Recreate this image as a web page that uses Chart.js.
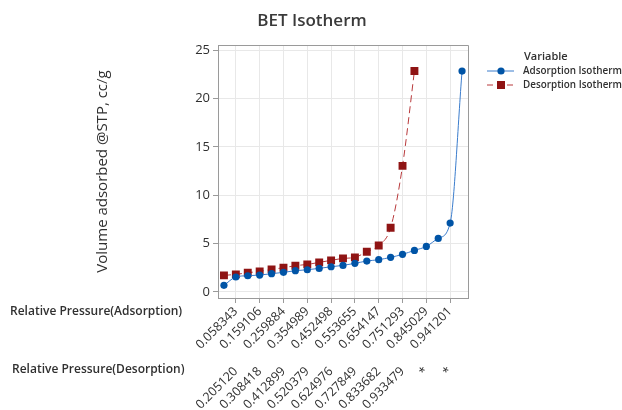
<!DOCTYPE html>
<html>
<head>
<meta charset="utf-8">
<script src="https://cdn.jsdelivr.net/npm/chart.js@4.4.1/dist/chart.umd.min.js"></script>
<style>
html,body{margin:0;padding:0;background:#fff;}
#wrap{width:622px;height:410px;position:relative;}
</style>
</head>
<body>
<div id="wrap"><canvas id="c" width="622" height="410"></canvas></div>
<script>
// ---- data ----
const pointIndex = ['1','2','3','4','5','6','7','8','9','10','11','12','13','14','15','16','17','18','19','20','21'];
const adsorption = [0.69,1.55,1.68,1.75,1.89,2.03,2.20,2.30,2.44,2.61,2.75,2.96,3.20,3.34,3.58,3.89,4.30,4.71,5.54,7.12,22.83];
const desorption = [1.72,1.82,1.99,2.13,2.34,2.51,2.72,2.85,3.06,3.27,3.47,3.58,4.16,4.81,6.64,13.03,22.83,null,null,null,null];
const adsLabels = ['0.058343','0.159106','0.259884','0.354989','0.452498','0.553655','0.654147','0.751293','0.845029','0.941201'];
const desLabels = ['0.205120','0.308418','0.412899','0.520379','0.624976','0.727849','0.833682','0.933479','*','*'];
const yTicks = [0,5,10,15,20,25];

const FONT = "'Open Sans', 'Noto Sans', sans-serif";
const TXT = '#303030';
const BORDER = '#9a9a9a';
const GRID = '#e8e8e8';
const BLUE_M = '#0054a6', BLUE_L = '#3a7ccc';
const RED_M = '#8f1414', RED_L = '#b8393b';

const frame = {
  id: 'frame',
  beforeDatasetsDraw(chart) {
    const {ctx, chartArea: a} = chart;
    ctx.save();
    ctx.strokeStyle = BORDER; ctx.lineWidth = 1;
    ctx.beginPath();
    ctx.moveTo(a.left, a.top + 0.5); ctx.lineTo(a.right + 0.5, a.top + 0.5);
    ctx.lineTo(a.right + 0.5, a.bottom);
    ctx.stroke();
    ctx.restore();
  },
  afterDraw(chart) {
    const {ctx} = chart;
    ctx.save();
    // chart title
    ctx.fillStyle = '#3a3a3a';
    ctx.font = "600 17px " + FONT;
    ctx.textBaseline = 'middle'; ctx.textAlign = 'center';
    ctx.fillText('BET Isotherm', 312, 21);
    // row titles for the x axes
    ctx.fillStyle = TXT;
    ctx.font = "600 12px " + FONT;
    ctx.textAlign = 'left';
    const x1 = chart.scales.x, x2 = chart.scales.x2;
    ctx.fillText('Relative Pressure(Adsorption)', 10, x1.top + 14);
    ctx.fillText('Relative Pressure(Desorption)', 12, x2.top + 16);
    // legend
    ctx.font = "600 11px " + FONT;
    ctx.fillText('Variable', 524, 57);
    ctx.font = "600 11px " + FONT;
    ctx.fillText('Adsorption Isotherm', 523, 71, 99);
    ctx.fillText('Desorption Isotherm', 523, 85, 99);
    ctx.lineWidth = 1;
    ctx.strokeStyle = BLUE_L;
    ctx.beginPath(); ctx.moveTo(487, 71); ctx.lineTo(514, 71); ctx.stroke();
    ctx.fillStyle = BLUE_M;
    ctx.beginPath(); ctx.arc(501, 71, 3.6, 0, Math.PI * 2); ctx.fill();
    ctx.strokeStyle = RED_L;
    ctx.setLineDash([6, 4]);
    ctx.beginPath(); ctx.moveTo(487, 85); ctx.lineTo(514, 85); ctx.stroke();
    ctx.setLineDash([]);
    ctx.fillStyle = RED_M;
    ctx.fillRect(497, 81, 8, 8);
    ctx.restore();
  }
};

new Chart(document.getElementById('c'), {
  type: 'line',
  data: {
    labels: pointIndex,
    datasets: [
      {
        label: 'Adsorption Isotherm',
        data: adsorption,
        borderColor: BLUE_L, borderWidth: 1,
        backgroundColor: BLUE_M, pointBackgroundColor: BLUE_M, pointBorderColor: BLUE_M,
        pointStyle: 'circle', pointRadius: 3.6, pointBorderWidth: 0,
        cubicInterpolationMode: 'monotone', tension: 0.3
      },
      {
        label: 'Desorption Isotherm',
        data: desorption,
        borderColor: RED_L, borderWidth: 1, borderDash: [7, 4],
        backgroundColor: RED_M, pointBackgroundColor: RED_M, pointBorderColor: RED_M,
        pointStyle: 'rect', pointRadius: 5.6, pointBorderWidth: 0,
        cubicInterpolationMode: 'monotone', tension: 0.3,
        spanGaps: false
      }
    ]
  },
  options: {
    responsive: false,
    animation: false,
    devicePixelRatio: 1,
    layout: { padding: { left: 0, right: 154, top: 45, bottom: 0 } },
    plugins: {
      legend: { display: false },
      tooltip: { enabled: false },
      title: { display: false }
    },
    scales: {
      x: {
        type: 'category',
        offset: true,
        position: 'bottom',
        border: { display: true, color: BORDER },
        grid: { display: true, color: GRID, tickColor: BORDER, tickLength: 5, drawOnChartArea: true },
        afterBuildTicks: (ax) => { ax.ticks = ax.ticks.filter(t => t.value % 2 === 1); },
        afterFit: (ax) => { ax.height = 56; },
        ticks: {
          autoSkip: false, minRotation: 45, maxRotation: 45, padding: 1,
          color: TXT, font: { family: FONT, size: 12.5 },
          callback: (v) => adsLabels[(v - 1) / 2]
        }
      },
      x2: {
        type: 'category',
        offset: true,
        position: 'bottom',
        border: { display: false },
        grid: { display: false },
        afterBuildTicks: (ax) => { ax.ticks = ax.ticks.filter(t => t.value % 2 === 1); },
        afterFit: (ax) => { ax.height = 56; },
        ticks: {
          autoSkip: false, minRotation: 45, maxRotation: 45, padding: 2,
          color: TXT, font: { family: FONT, size: 12.5 },
          callback: (v) => desLabels[(v - 1) / 2]
        }
      },
      y: {
        type: 'linear',
        min: -0.62, max: 25.52,
        border: { display: true, color: BORDER },
        grid: { color: GRID, tickColor: BORDER, tickLength: 5 },
        afterBuildTicks: (ax) => { ax.ticks = yTicks.map(v => ({ value: v })); },
        afterFit: (ax) => { ax.width = 218; },
        ticks: { color: TXT, font: { family: FONT, size: 13 }, padding: 3 },
        title: {
          display: true,
          text: 'Volume adsorbed @STP, cc/g',
          color: TXT,
          font: { family: FONT, size: 15 },
          padding: { top: 94, bottom: 0 }
        }
      }
    }
  },
  plugins: [frame]
});
</script>
</body>
</html>
